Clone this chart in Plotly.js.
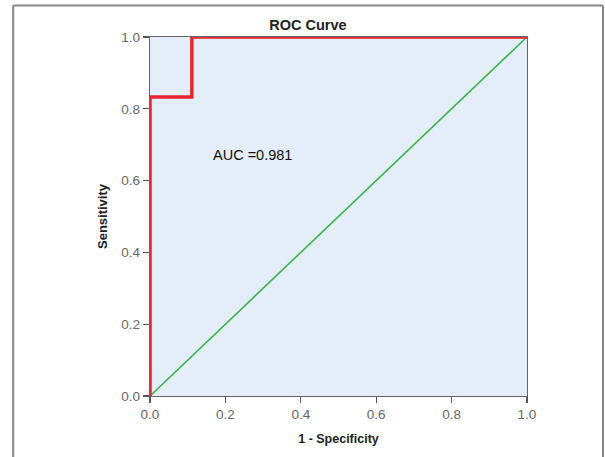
<!DOCTYPE html>
<html><head><meta charset="utf-8">
<script src="https://cdn.plot.ly/plotly-3.0.1.min.js"></script>
<style>body{margin:0;padding:0;background:#fff}#chart{width:605px;height:457px}</style>
</head><body><div id="chart"></div>
<script>
// ROC curve points (1 - specificity, sensitivity)
const rocFpr = [0, 0, 0.111, 0.111, 1.0];
const rocTpr = [0, 0.833, 0.833, 1.0, 1.0];
// Reference (chance) line
const refX = [0, 1];
const refY = [0, 1];
const tickVals = [0, 0.2, 0.4, 0.6, 0.8, 1.0];
const tickText = ['0.0', '0.2', '0.4', '0.6', '0.8', '1.0'];
const aucText = 'AUC =0.981';

const FONT = 'Liberation Sans, Arial, sans-serif';

const traces = [
  {x: refX, y: refY, mode: 'lines', line: {color: '#3ab54a', width: 1.6}, cliponaxis: false, hoverinfo: 'skip'},
  {x: rocFpr, y: rocTpr, mode: 'lines', line: {color: '#e8262b', width: 3.5}, cliponaxis: false, hoverinfo: 'skip'}
];

const axisCommon = {
  range: [0, 1], tickvals: tickVals, ticktext: tickText,
  showgrid: false, zeroline: false, showline: true, linecolor: '#666', linewidth: 1.2,
  mirror: true, ticks: 'outside', ticklen: 6, tickcolor: '#555', tickwidth: 1.2,
  tickfont: {family: FONT, size: 13.5, color: '#666'}
};

const layout = {
  width: 605, height: 457,
  margin: {l: 150, r: 78, t: 37, b: 61},
  paper_bgcolor: '#fff', plot_bgcolor: '#e3eefa',
  showlegend: false,
  title: {text: '<b>ROC Curve</b>', xref: 'paper', x: 0.419, xanchor: 'center', yref: 'container', y: 0.946, yanchor: 'middle',
          font: {family: FONT, size: 14.5, color: '#222'}},
  xaxis: Object.assign({}, axisCommon, {
    title: {text: '<b>1 - Specificity</b>', standoff: 12, font: {family: FONT, size: 12.5, color: '#222'}}
  }),
  yaxis: Object.assign({}, axisCommon, {
    title: {text: '<b>Sensitivity</b>', standoff: 10, font: {family: FONT, size: 13, color: '#222'}}
  }),
  annotations: [{
    x: 0.271, y: 0.671, xref: 'x', yref: 'y', text: aucText, showarrow: false,
    font: {family: FONT, size: 14.5, color: '#111'}
  }],
  shapes: [
    {type: 'line', xref: 'paper', yref: 'paper', x0: -0.363, x1: -0.363, y0: 1.088, y1: -0.2, line: {color: '#888', width: 2}},
    {type: 'line', xref: 'paper', yref: 'paper', x0: -0.363, x1: 1.2016, y0: 1.088, y1: 1.088, line: {color: '#888', width: 2}},
    {type: 'line', xref: 'paper', yref: 'paper', x0: 1.2016, x1: 1.2016, y0: 1.088, y1: -0.2, line: {color: '#888', width: 2}}
  ]
};

Plotly.newPlot('chart', traces, layout, {staticPlot: true, displayModeBar: false});
</script></body></html>
